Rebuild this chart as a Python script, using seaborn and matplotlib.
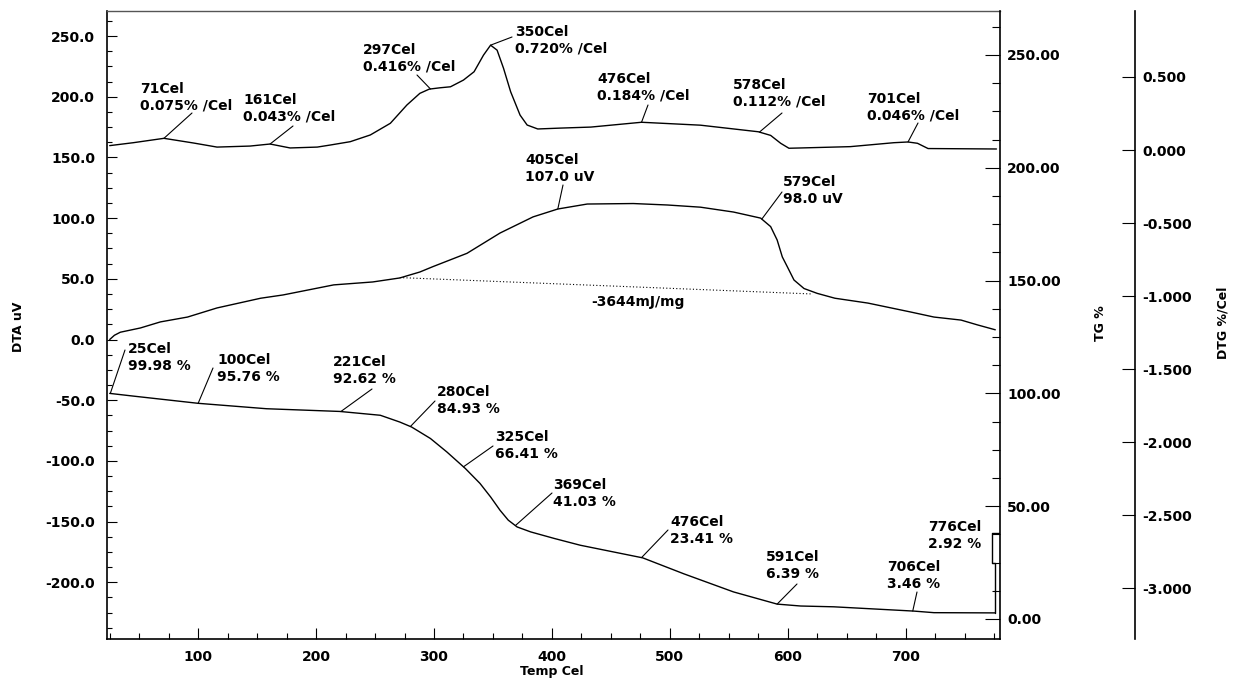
import numpy as np
import pandas as pd
import matplotlib
matplotlib.use('Agg')
import matplotlib.pyplot as plt
import seaborn as sns
from matplotlib.ticker import MultipleLocator, FormatStrFormatter

# DTG curve (%/Cel)
dtg_temp = [25, 45, 71, 96, 116, 144, 161, 178, 201, 212, 229, 246, 263, 277, 288, 296, 305, 314,
            325, 334, 342, 348, 353.5, 359, 365, 373, 379, 388, 407, 433, 476, 526, 575, 585.5, 594,
            601, 611, 653, 690, 702, 710, 719, 777]
dtg_val = [0.03, 0.05, 0.08, 0.048, 0.02, 0.027, 0.041, 0.014, 0.02, 0.034, 0.057, 0.103, 0.183,
           0.308, 0.388, 0.417, 0.426, 0.433, 0.479, 0.536, 0.65, 0.718, 0.684, 0.559, 0.399, 0.239,
           0.171, 0.144, 0.15, 0.157, 0.19, 0.17, 0.125, 0.10, 0.046, 0.012, 0.014, 0.023, 0.05,
           0.055, 0.046, 0.01, 0.007]

# DTA curve (uV)
dta_temp = [25, 29, 34, 51, 68, 91, 116, 153, 172, 215, 248, 271, 288, 299, 328, 356, 384, 405, 430,
            469, 498, 526, 554, 577, 585.5, 591, 595.4, 599.6, 605.3, 613.8, 625, 640, 668, 704, 724,
            747, 761, 776]
dta_val = [0, 3.5, 6, 9.5, 14.5, 18.5, 26, 34, 36.7, 45, 47.4, 50.7, 55.6, 60, 71, 87.7, 101, 107.5,
           111.6, 112, 110.8, 109, 105, 100, 93, 82, 68, 60, 49, 42, 38, 34, 30, 22.7, 18.5, 16, 12, 8]

# DTA peak baseline (dotted)
base_temp = [271, 621]
base_val = [51, 37.5]

# TG curve (%)
tg_temp = [25, 45, 100, 158, 220, 254.5, 271, 281, 297, 311, 326.6, 339, 348, 356, 363, 370.5, 382,
           402, 424, 477, 512, 554, 591, 611, 639, 707, 724, 776]
tg_val = [100, 98.8, 95.6, 93.2, 92, 90.3, 87.3, 85.1, 80.0, 74.0, 66.7, 60.1, 54.1, 48.2, 43.8, 40.8,
          38.6, 35.7, 32.7, 27.1, 20, 12, 6.6, 5.75, 5.4, 3.5, 2.8, 2.7]

# end-of-run bracket on the TG curve
bracket_temp = [776, 776, 773, 773, 780]
bracket_val = [2.7, 24.8, 24.8, 38, 38]

# labels: text, temperature of the marked point, text top-left (px), leader start (px)
dtg_labels = [
    ("71Cel\n0.075% /Cel", 71, (140, 82), (192, 113)),
    ("161Cel\n0.043% /Cel", 161, (243, 93), (293, 126)),
    ("297Cel\n0.416% /Cel", 297, (363, 43), (417, 75)),
    ("350Cel\n0.720% /Cel", 348, (515, 25), (512, 37)),
    ("476Cel\n0.184% /Cel", 476, (597, 72), (648, 105)),
    ("578Cel\n0.112% /Cel", 576, (733, 78), (782, 113)),
    ("701Cel\n0.046% /Cel", 702, (867, 92), (918, 123)),
]
dta_labels = [
    ("405Cel\n107.0 uV", 405, (525, 153), (563, 185)),
    ("579Cel\n98.0 uV", 578, (783, 175), (782, 192)),
]
tg_labels = [
    ("25Cel\n99.98 %", 25.5, (128, 342), (125, 350)),
    ("100Cel\n95.76 %", 100, (217, 353), (213, 368)),
    ("221Cel\n92.62 %", 221, (333, 355), (372, 389)),
    ("280Cel\n84.93 %", 280, (437, 385), (435, 401)),
    ("325Cel\n66.41 %", 325, (495, 430), (493, 446)),
    ("369Cel\n41.03 %", 369, (553, 478), (552, 493)),
    ("476Cel\n23.41 %", 476, (670, 515), (668, 530)),
    ("591Cel\n6.39 %", 591, (766, 550), (797, 584)),
    ("706Cel\n3.46 %", 706, (887, 560), (917, 592)),
    ("776Cel\n2.92 %", None, (928, 520), None),
]

W, H = 1240, 683

sns.set_style('ticks', {'axes.edgecolor': 'black', 'xtick.color': 'black', 'ytick.color': 'black',
                        'text.color': 'black', 'axes.labelcolor': 'black'})
plt.rcParams['font.family'] = ['DejaVu Sans']
plt.rcParams['font.weight'] = 'bold'
plt.rcParams['axes.unicode_minus'] = False

fig = plt.figure(figsize=(W / 100, H / 100), dpi=100)
ax = fig.add_axes([107 / W, 1 - 639 / H, 893 / W, 628 / H])
ax2 = ax.twinx()
ax3 = ax.twinx()
ax3.spines['right'].set_position(('axes', (1135 - 107) / 893))

dta = pd.DataFrame({'temp': dta_temp, 'val': dta_val})
tg = pd.DataFrame({'temp': tg_temp, 'val': tg_val})
dtg = pd.DataFrame({'temp': dtg_temp, 'val': dtg_val})

sns.lineplot(data=dta, x='temp', y='val', ax=ax, color='black', lw=1, estimator=None, sort=False)
ax.plot(base_temp, base_val, color='black', lw=0.8, ls=(0, (1, 2)))
sns.lineplot(data=tg, x='temp', y='val', ax=ax2, color='black', lw=1, estimator=None, sort=False)
ax2.plot(bracket_temp, bracket_val, color='black', lw=1)
sns.lineplot(data=dtg, x='temp', y='val', ax=ax3, color='black', lw=1, estimator=None, sort=False)

# ticks
ax.xaxis.set_major_locator(MultipleLocator(100))
ax.xaxis.set_minor_locator(MultipleLocator(25))
ax.yaxis.set_major_locator(MultipleLocator(50))
ax.yaxis.set_minor_locator(MultipleLocator(12.5))
ax.yaxis.set_major_formatter(FormatStrFormatter('%.1f'))
ax2.yaxis.set_major_locator(MultipleLocator(50))
ax2.yaxis.set_minor_locator(MultipleLocator(12.5))
ax2.yaxis.set_major_formatter(FormatStrFormatter('%.2f'))
ax3.set_yticks([-3.0, -2.5, -2.0, -1.5, -1.0, -0.5, 0.0, 0.5])
ax3.yaxis.set_major_formatter(FormatStrFormatter('%.3f'))

# limits
ax.set_xlim(22.7, 780)
ax.set_ylim(-246.7, 270.6)
ax2.set_ylim(-8.87, 269.5)
ax3.set_ylim(-3.349, 0.952)

ax.tick_params(axis='y', which='major', direction='in', length=7.2, width=0.8, pad=8.6, labelsize=10)
ax.tick_params(axis='y', which='minor', direction='in', length=3.6, width=0.8)
ax.tick_params(axis='x', which='major', direction='in', length=8, width=0.8, pad=8, labelsize=10)
ax.tick_params(axis='x', which='minor', direction='in', length=4.3, width=0.8)
ax2.tick_params(axis='y', which='major', direction='in', length=10.8, width=0.8, pad=5, labelsize=10)
ax2.tick_params(axis='y', which='minor', direction='in', length=5.8, width=0.8)
ax3.tick_params(axis='y', which='major', direction='in', length=9.4, width=0.8, pad=5, labelsize=10)

for a in (ax, ax2, ax3):
    a.set_xlabel('')
    a.set_ylabel('')

# spines
for s in ('left', 'bottom'):
    ax.spines[s].set_linewidth(1.2)
ax.spines['top'].set_linewidth(1.0)
ax.spines['top'].set_color('#555555')
ax.spines['right'].set_visible(False)
for s in ('left', 'top', 'bottom'):
    ax2.spines[s].set_visible(False)
    ax3.spines[s].set_visible(False)
ax2.spines['right'].set_linewidth(1.2)
ax3.spines['right'].set_linewidth(1.2)


def px(p):
    return (p[0], H - p[1])


def put_labels(axis, labels, temps, vals):
    for text, t, tpos, lpos in labels:
        fig.text(tpos[0] / W, 1 - tpos[1] / H, text, ha='left', va='top', fontsize=10,
                 fontweight='bold', linespacing=1.25)
        if t is not None:
            y = np.interp(t, temps, vals)
            axis.annotate('', xy=(t, y), xycoords='data', xytext=px(lpos), textcoords='figure pixels',
                          arrowprops=dict(arrowstyle='-', lw=0.8, color='black',
                                          shrinkA=0, shrinkB=0))


put_labels(ax3, dtg_labels, dtg_temp, dtg_val)
put_labels(ax, dta_labels, dta_temp, dta_val)
put_labels(ax2, tg_labels, tg_temp, tg_val)

fig.text(638 / W, 1 - 302 / H, '-3644mJ/mg', ha='center', va='center', fontsize=10, fontweight='bold')

# axis titles
fig.text(18 / W, 1 - 327 / H, 'DTA uV', rotation=90, ha='center', va='center', fontsize=9)
fig.text(1100 / W, 1 - 323 / H, 'TG %', rotation=90, ha='center', va='center', fontsize=9)
fig.text(1223 / W, 1 - 323 / H, 'DTG %/Cel', rotation=90, ha='center', va='center', fontsize=9)
fig.text(552 / W, 1 - 672 / H, 'Temp Cel', ha='center', va='center', fontsize=9)

fig.savefig('out.png', dpi=100)
